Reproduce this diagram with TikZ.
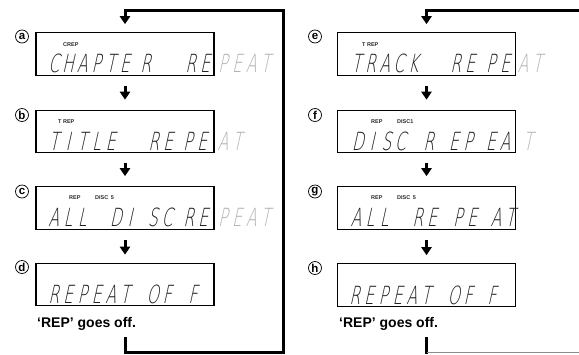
\documentclass[tikz,border=0pt]{standalone}
\usepackage{fontspec}
\setmainfont{Liberation Sans}
\IfFontExistsTF{DejaVu Sans ExtraLight}
 {\newfontfamily\lcdfont{DejaVu Sans ExtraLight}[FakeStretch=0.62,FakeSlant=0.22]}
 {\newfontfamily\lcdfont{DejaVu Sans}[FakeStretch=0.62,FakeSlant=0.22]}
\usetikzlibrary{arrows.meta}
\newlength\lcdpitch
\setlength\lcdpitch{14.2pt}
\makeatletter
\newcommand\lcdcells[1]{\@tfor\lcd@c:=#1\do{\makebox[\lcdpitch][c]{\lcd@c}}}
\makeatother
\begin{document}
\begin{tikzpicture}[x=1pt,y=-1pt,
  dispbox/.style={draw, line width=1.1pt, minimum width=178pt, minimum height=42.5pt, inner sep=0pt},
  lcdon/.style={font=\lcdfont\fontsize{25}{25}\selectfont, text=black!88, inner sep=0pt, anchor=base west},
  lcdoff/.style={lcdon, text=black!30},
  ind/.style={font=\fontsize{5.5}{6}\selectfont\bfseries, text=black!85, inner sep=0pt, anchor=west},
  circ/.style={draw, circle, line width=0.7pt, minimum size=13pt, inner sep=0pt, font=\fontsize{11.5}{11.5}\selectfont\bfseries},
  note/.style={font=\fontsize{14}{14}\selectfont\bfseries, inner sep=0pt, anchor=base west},
  flow/.style={line width=3pt, -{Triangle[width=10pt,length=8pt]}},
  loopline/.style={line width=3pt, line join=miter}]
\useasboundingbox (0,0) rectangle (579,354);

% ---------- left column ----------
\node[dispbox] (A) at (125,54) {};
\node[dispbox] (B) at (125,131.5) {};
\node[dispbox] (C) at (125,208) {};
\node[dispbox] (D) at (125,284.5) {};

\node[circ] (la) at (22,36.5) {a};
\node[circ] (lb) at (22,115) {b};
\node[circ] (lc) at (22,191.5) {c};
\node[circ] (ld) at (22,267) {d};

\node[ind] (ia) at (63,45) {CREP};
\node[ind] (ib) at (58,122) {T REP};
\node[ind] (ic1) at (69,198) {REP};
\node[ind] (ic2) at (95,198) {DISC\hspace{2.5pt}5};

\node[lcdon] (a1) at (46.5,72.5) {\lcdcells{CHAPTE}};
\node[lcdon] (a2) at (138.5,72.5) {\lcdcells{R}};
\node[lcdon] (a3) at (183.5,72.5) {\lcdcells{RE}};
\node[lcdoff] (a4) at (215.5,72.5) {\lcdcells{PEAT}};

\node[lcdon] (b1) at (46.5,150) {\lcdcells{TITLE}};
\node[lcdon] (b2) at (146.5,150) {\lcdcells{RE}};
\node[lcdon] (b3) at (180.5,150) {\lcdcells{PE}};
\node[lcdoff] (b4) at (215.5,150) {\lcdcells{AT}};

\node[lcdon] (c1) at (46.5,226.5) {\lcdcells{ALL}};
\node[lcdon] (c2) at (108.5,226.5) {\lcdcells{DI}};
\node[lcdon] (c3) at (145.5,226.5) {\lcdcells{SC}};
\node[lcdon] (c4) at (181.5,226.5) {\lcdcells{RE}};
\node[lcdoff] (c5) at (215.5,226.5) {\lcdcells{PEAT}};

\node[lcdon] (d1) at (46.5,303.5) {\lcdcells{REPEAT}};
\node[lcdon] (d2) at (145.5,303.5) {\lcdcells{OF}};
\node[lcdon] (d3) at (185.5,303.5) {\lcdcells{F}};

\node[note] (nl) at (37,327) {‘REP’ goes off.};

\draw[flow] ([yshift=-10pt]A.south) -- ([yshift=10pt]B.north);
\draw[flow] ([yshift=-10pt]B.south) -- ([yshift=10pt]C.north);
\draw[flow] ([yshift=-10pt]C.south) -- ([yshift=8pt]D.north);

\coordinate (L0) at (125,337);
\coordinate (L1) at (125,352);
\coordinate (L2) at (283,352);
\coordinate (L3) at (283,10);
\coordinate (L4) at (125,10);
\draw[loopline, -{Triangle[width=10pt,length=8pt]}] (L0) -- (L1) -- (L2) -- (L3) -- (L4) -- ([yshift=8pt]A.north);

% ---------- right column ----------
\node[dispbox] (E) at (426.5,54) {};
\node[dispbox] (F) at (426.5,131.5) {};
\node[dispbox] (G) at (426.5,208) {};
\node[dispbox] (H) at (426.5,285) {};

\node[circ] (le) at (315,36.5) {e};
\node[circ] (lf) at (315,115) {f};
\node[circ] (lg) at (315,191.5) {g};
\node[circ] (lh) at (315,268) {h};

\node[ind] (ie) at (362,45) {T REP};
\node[ind] (if1) at (371,122) {REP};
\node[ind] (if2) at (397,122) {DISC1};
\node[ind] (ig1) at (371,198) {REP};
\node[ind] (ig2) at (397,198) {DISC\hspace{2.5pt}5};

\node[lcdon] (e1) at (349,72.5) {\lcdcells{TRACK}};
\node[lcdon] (e2) at (448.5,72.5) {\lcdcells{RE}};
\node[lcdon] (e3) at (483.5,72.5) {\lcdcells{PE}};
\node[lcdoff] (e4) at (515.5,72.5) {\lcdcells{AT}};

\node[lcdon] (f1) at (350.5,150) {\lcdcells{DISC}};
\node[lcdon] (f2) at (421.5,150) {\lcdcells{R}};
\node[lcdon] (f3) at (446.5,150) {\lcdcells{EP}};
\node[lcdon] (f4) at (483.5,150) {\lcdcells{EA}};
\node[lcdoff] (f5) at (520.5,150) {\lcdcells{T}};

\node[lcdon] (g1) at (348.5,226.5) {\lcdcells{ALL}};
\node[lcdon] (g2) at (410.5,226.5) {\lcdcells{RE}};
\node[lcdon] (g3) at (450.5,226.5) {\lcdcells{PE}};
\node[lcdon] (g4) at (488.5,226.5) {\lcdcells{AT}};

\node[lcdon] (h1) at (347.5,304) {\lcdcells{REPEAT}};
\node[lcdon] (h2) at (446.5,304) {\lcdcells{OF}};
\node[lcdon] (h3) at (484.5,304) {\lcdcells{F}};

\node[note] (nr) at (339,327) {‘REP’ goes off.};

\draw[flow] ([yshift=-10pt]E.south) -- ([yshift=10pt]F.north);
\draw[flow] ([yshift=-10pt]F.south) -- ([yshift=10pt]G.north);
\draw[flow] ([yshift=-10pt]G.south) -- ([yshift=8pt]H.north);

\coordinate (R0) at (579,10);
\coordinate (R1) at (426.5,10);
\draw[loopline, -{Triangle[width=10pt,length=8pt]}] (R0) -- (R1) -- ([yshift=8pt]E.north);
\coordinate (R2) at (426.5,337);
\coordinate (R3) at (426.5,352);
\coordinate (R4) at (579,352);
\draw[loopline] (R2) -- ([yshift=-1.5pt]R3);
\draw[line width=0.8pt, black!45] (R3) -- (R4);
\end{tikzpicture}
\end{document}
